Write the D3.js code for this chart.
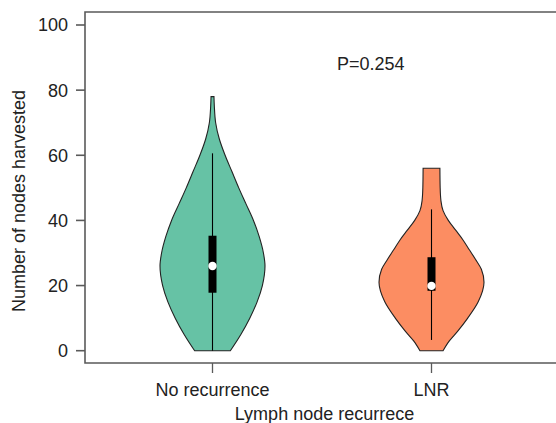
<!DOCTYPE html>
<html>
<head>
<meta charset="utf-8">
<script src="https://cdn.jsdelivr.net/npm/d3@7"></script>
<style>
  html, body { margin: 0; padding: 0; background: #fff; }
  svg { display: block; }
  text { font-family: "Liberation Sans", Arial, Helvetica, sans-serif; fill: #222; }
</style>
</head>
<body>
<svg id="chart" width="556" height="423"></svg>
<script>
// ---- data ----
const categories = ["No recurrence", "LNR"];
const colors = ["#66c2a5", "#fc8d62"];
// kernel density profiles: [value, relative density]
const densityNoRec = [[0,0.34],[5,0.54],[10,0.71],[15,0.85],[20,0.95],[26,1.0],[30,0.97],[35,0.89],[40,0.78],[45,0.64],[50,0.50],[55,0.37],[60,0.24],[65,0.13],[70,0.06],[75,0.035],[78,0.028]];
const densityLNR = [[0,0.22],[3,0.34],[6,0.5],[10,0.69],[15,0.89],[21,1.0],[25,0.95],[28,0.84],[31,0.72],[34,0.6],[37,0.46],[40,0.32],[43,0.22],[46,0.18],[50,0.165],[56,0.16]];
// box summaries: [whiskerLow, q1, median, q3, whiskerHigh]
const boxNoRec = [0, 17.8, 26, 35.3, 60.6];
const boxLNR = [3.3, 18.4, 19.9, 28.7, 43.4];
const yTicks = [0, 20, 40, 60, 80, 100];
const pLabel = "P=0.254";
const xTitle = "Lymph node recurrece";
const yTitle = "Number of nodes harvested";

const densities = [densityNoRec, densityLNR];
const boxes = [boxNoRec, boxLNR];

// ---- layout ----
const svg = d3.select("#chart");
const mLeft = 85, mRight = 564, mTop = 12, mBottom = 363;

const y = d3.scaleLinear().domain([0, 100]).range([350.7, 25]);
const x = d3.scalePoint().domain(categories).range([212.5, 431.5]);
const w = d3.scaleLinear().domain([0, 1]).range([0, 52.5]);

// frame (left, top, bottom)
const axisColor = "#5a5a5a";
svg.append("path")
  .attr("d", `M${mRight},${mTop}H${mLeft}V${mBottom}H${mRight}`)
  .attr("fill", "none").attr("stroke", axisColor).attr("stroke-width", 1.6);

// y ticks
const yt = svg.append("g");
yTicks.forEach(t => {
  yt.append("line").attr("x1", 76).attr("x2", mLeft).attr("y1", y(t)).attr("y2", y(t))
    .attr("stroke", axisColor).attr("stroke-width", 1.6);
  yt.append("text").attr("x", 68).attr("y", y(t)).attr("dy", "0.36em")
    .attr("text-anchor", "end").attr("font-size", 18).text(t);
});

// x ticks
categories.forEach(c => {
  svg.append("line").attr("x1", x(c)).attr("x2", x(c)).attr("y1", mBottom).attr("y2", 373)
    .attr("stroke", axisColor).attr("stroke-width", 1.3);
  svg.append("text").attr("x", x(c)).attr("y", 396).attr("text-anchor", "middle")
    .attr("font-size", 18).text(c);
});

// titles
svg.append("text").attr("x", 324.5).attr("y", 420).attr("text-anchor", "middle")
  .attr("font-size", 18).text(xTitle);
svg.append("text").attr("transform", "translate(25,201) rotate(-90)")
  .attr("text-anchor", "middle").attr("font-size", 18).text(yTitle);

// P value
svg.append("text").attr("x", 337).attr("y", 69.5).attr("font-size", 18).text(pLabel);

// violins
categories.forEach((c, i) => {
  const cx = x(c);
  const area = d3.area()
    .y(d => y(d[0]))
    .x0(d => cx - w(d[1]))
    .x1(d => cx + w(d[1]))
    .curve(d3.curveMonotoneY);
  svg.append("path").datum(densities[i])
    .attr("d", area)
    .attr("fill", colors[i])
    .attr("stroke", "#222").attr("stroke-width", 1.1);

  const b = boxes[i];
  svg.append("line").attr("x1", cx).attr("x2", cx).attr("y1", y(b[0])).attr("y2", y(b[4]))
    .attr("stroke", "#000").attr("stroke-width", 1.1);
  svg.append("rect").attr("x", cx - 4).attr("width", 8)
    .attr("y", y(b[3])).attr("height", y(b[1]) - y(b[3])).attr("fill", "#000");
  svg.append("circle").attr("cx", cx).attr("cy", y(b[2])).attr("r", 4.2).attr("fill", "#fff");
});
</script>
</body>
</html>
